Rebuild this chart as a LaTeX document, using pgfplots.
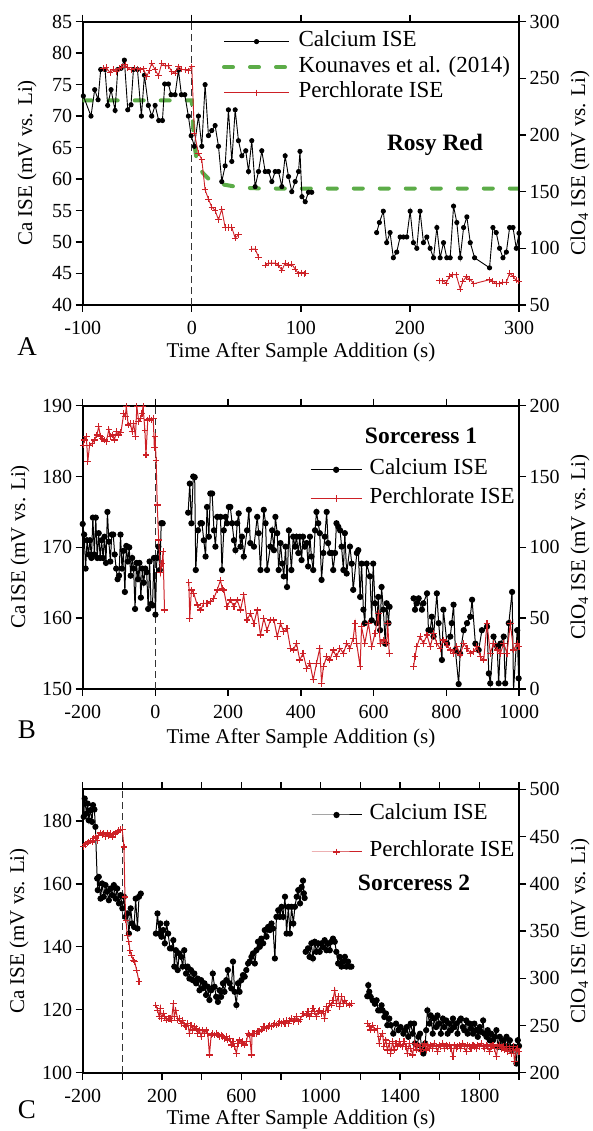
\documentclass[border=0pt]{standalone}
\usepackage{fontspec}
\setmainfont{Liberation Serif}
\usepackage{pgfplots}
\pgfplotsset{compat=1.18}
\definecolor{cared}{RGB}{205,32,38}
\definecolor{kgreen}{RGB}{92,172,72}
\pgfplotsset{
  panel/.style={scale only axis, width=436.3pt, height=283.3pt,
    tick align=outside, major tick length=7pt,
    axis line style={line width=2.2pt},
    tick style={black, line width=1.4pt},
    /pgf/number format/assume math mode=true,
    /pgf/number format/1000 sep={},
    tick label style={font=\fontsize{20}{24}\selectfont},
    xticklabel style={yshift=-6pt}},
  ca/.style={black, line width=0.9pt, mark=*, mark size=2.1pt},
  cab/.style={black, line width=1pt, mark=*, mark size=2.6pt},
  pc/.style={cared, line width=0.9pt, mark=+, mark size=3.1pt, mark options={line width=1pt}},
  pcb/.style={cared, line width=1pt, mark=+, mark size=3.3pt, mark options={line width=1.1pt}},
  kg/.style={kgreen, line width=4pt, line cap=round, dash pattern=on 9pt off 17pt},
  vline/.style={black!80, line width=1.3pt, dash pattern=on 7pt off 4pt},
  leg/.style={legend style={draw=none, fill=none, font=\fontsize{23}{27}\selectfont,
     legend cell align=left, nodes={inner sep=0.5pt, text height=16pt, text depth=6pt},
     /tikz/every odd column/.append style={column sep=7pt}}},
  limg/.style={legend image code/.code={\draw[mark repeat=2,mark phase=2] plot coordinates {(0pt,0pt) (#1,0pt) (2*#1,0pt)};}},
}
\begin{document}
\begin{tikzpicture}
\useasboundingbox (0,0) rectangle (592pt,1131pt);
%================ Panel A
\begin{axis}[panel, at={(82.7pt,826pt)}, xmin=-100, xmax=300, ymin=40, ymax=85,
  xtick={-100,0,...,300}, ytick={40,45,...,85}, xtick pos=both, xticklabel pos=lower, ytick pos=left]
\addplot[vline] coordinates {(0,40) (0,85)};
\addplot[kg] coordinates {(-100,72.5) (0,72.5) (1,69) (2,66.5) (3,64.8) (4,63.6) (6,62.3) (8,61.6) (10,61.0) (15,60.1) (20,59.7) (25,59.4) (30,59.1) (40,58.8) (50,58.6) (65,58.5) (300,58.5)};
\addplot[ca] coordinates {(-99.4,73.2) (-92.4,70.0) (-89.0,74.2) (-85.9,72.6) (-83.5,77.4) (-79.5,77.4) (-77.1,71.7) (-74.0,74.2) (-70.3,70.9) (-67.9,77.4) (-64.8,77.6) (-61.8,78.9) (-58.7,71.0) (-55.7,71.8) (-53.5,77.4) (-49.8,77.4) (-46.2,70.0) (-43.4,76.5) (-39.8,71.7) (-36.7,70.0) (-33.6,71.7) (-30.3,69.3) (-26.9,69.3) (-24.8,75.1) (-21.4,75.1) (-19.0,73.4) (-15.3,73.4) (-12.2,77.3) (-9.5,73.4) (-6.4,73.4) (-3.1,70.0) (-0.6,66.9) (2.4,65.2) (6.1,70.0) (9.2,65.2) (12.2,75.0) (15.3,66.9) (18.3,67.7) (21.4,68.5) (24.5,65.2) (27.5,59.6) (30.6,62.1) (33.6,71.0) (36.7,62.8) (39.8,71.0) (42.8,66.1) (45.9,63.7) (49.5,64.5) (52.0,61.2) (55.0,66.1) (58.1,58.8) (61.2,61.2) (64.2,64.5) (67.3,61.2) (70.3,61.2) (73.4,59.6) (76.5,61.2) (79.5,61.2) (82.6,58.8) (85.6,63.7) (88.7,60.4) (91.7,58.0) (94.8,59.6) (97.9,61.2) (99.2,64.4) (101,57.2) (104,56.4) (107,57.9) (110,57.9)};
\addplot[ca] coordinates {(169.5,51.5) (172.0,53.1) (175.6,54.9) (178.7,49.9) (181.8,51.5) (184.8,47.5) (187.9,48.4) (191.0,50.8) (194.0,50.8) (197.1,50.8) (200.2,54.9) (203.2,49.9) (206.3,49.0) (209.3,54.9) (212.4,49.9) (215.5,50.8) (218.5,49.0) (221.6,47.5) (224.7,52.3) (227.7,47.5) (230.8,49.9) (233.8,47.5) (236.9,47.5) (240.0,55.7) (243.0,53.1) (246.1,47.5) (249.2,52.3) (252.2,54.0) (255.3,49.9) (259.3,47.5) (273.0,45.9) (276.1,52.3) (279.1,51.5) (282.2,49.0) (285.3,47.5) (288.4,48.4) (291.4,52.3) (294.5,52.3) (297.5,49.0) (300.0,51.4)};
\end{axis}
\begin{axis}[panel, at={(82.7pt,826pt)}, xmin=-100, xmax=300, ymin=50, ymax=300,
  ytick={50,100,...,300}, axis y line*=right, axis x line=none, leg, limg=32.5pt,
  legend style={at={(0.312,0.978)}, anchor=north west, row sep=2.5pt}]
\addlegendimage{ca}\addlegendentry{Calcium ISE}
\addlegendimage{kg}\addlegendentry{Kounaves et al. (2014)}
\addlegendimage{pc}\addlegendentry{Perchlorate ISE}
\addplot[pc, forget plot] coordinates {(-81.0,258.9) (-78.6,259.5) (-74.9,255.1) (-71.9,258.0) (-69.4,255.9) (-66.7,258.9) (-64.2,259.8) (-61.2,261.8) (-58.7,259.5) (-55.7,257.4) (-52.9,258.9) (-49.8,258.3) (-47.4,257.4) (-44.3,258.3) (-41.3,251.5) (-39.1,256.8) (-36.7,263.3) (-33.6,257.4) (-30.6,252.4) (-27.5,263.3) (-24.5,260.9) (-21.4,260.9) (-18.3,255.9) (-15.3,254.5) (-12.2,260.3) (-9.2,258.0) (-6.1,257.4) (-3.1,256.8) (0.0,260.3) (2.4,201.6) (6.1,184.0) (9.2,178.1) (12.2,151.6) (15.3,143.4) (18.3,136.4) (21.4,133.4) (24.5,125.2) (27.5,134.6) (30.6,118.4) (33.6,118.4) (36.7,118.4) (39.8,109.0) (42.8,112.0)};
\addplot[pc, forget plot] coordinates {(55.0,99.4) (58.1,99.4) (61.2,92.3)};
\addplot[pc, forget plot] coordinates {(67.3,85.0) (70.3,87.0) (73.4,87.0) (76.5,87.0) (79.5,85.0) (82.6,80.6) (85.6,87.0) (88.7,85.0) (91.7,86.1) (94.8,81.7) (97.8,77.6) (100.5,78.5) (103,77.6) (104.5,78.0)};
\addplot[pc, forget plot] coordinates {(227.1,71.4) (230.2,71.4) (233.2,69.4) (236.3,75.3) (239.4,76.7) (242.4,76.7) (246.1,64.1) (248.5,70.9) (251.6,74.7) (254.7,72.9) (258.7,68.8) (273.0,72.3) (276.1,70.9) (279.1,68.8) (282.2,68.8) (285.3,70.0) (288.4,70.0) (291.4,78.2) (294.5,75.3) (297.5,71.7) (299.7,70.9)};
\end{axis}
%================ Panel B
\begin{axis}[panel, at={(82.7pt,442pt)}, xmin=-200, xmax=1000, ymin=150, ymax=190,
  xtick={-200,0,...,1000}, ytick={150,160,...,190}, xtick pos=both, xticklabel pos=lower, ytick pos=left]
\addplot[vline] coordinates {(0,150) (0,190)};
\addplot[cab] coordinates {(-200,173.3) (-196,171.8) (-192,167.0) (-188,171.0) (-184,169.0) (-180,171.0) (-176,168.5) (-172,174.2) (-168,169.0) (-164,174.2) (-160,168.5) (-156,172.0) (-152,168.5) (-148,171.0) (-144,168.5) (-140,171.5) (-136,167.8) (-132,175.0) (-128,170.8) (-124,168.0) (-120,171.8) (-116,171.8) (-112,169.0) (-108,167.0) (-104,165.5) (-100,166.0) (-96,171.8) (-92,167.0) (-88,169.5) (-84,163.7) (-80,170.2) (-76,168.0) (-72,170.0) (-68,166.0) (-64,168.5) (-60,167.0) (-56,161.3) (-52,167.8) (-48,165.5) (-44,167.8) (-40,162.9) (-36,167.0) (-32,165.0) (-28,167.0) (-24,166.5) (-20,161.3) (-16,168.0) (-12,162.0) (-8,161.8) (-4,168.5) (0,160.5) (4,168.5) (8,170.1) (12,166.8) (16,173.4) (20,173.4)};
\addplot[cab] coordinates {(90,174.9) (94.5,179.0) (99,173.4) (104,180.0) (108,179.9) (111,166.8) (117,172.4) (124,173.4) (128,173.4) (133,171.0) (138,168.7) (142,175.7) (147,171.5) (151,177.6) (156,177.6) (161,172.4) (165,170.1) (170,174.3) (179,174.3) (183,166.8) (188,172.4) (193,174.3) (197,173.4) (202,175.7) (206,175.7) (211,173.4) (216,171.0) (220,169.6) (225,173.4) (229,174.8) (234,170.1) (238,171.5) (243,168.7) (252,172.4) (257,175.3) (261,170.6) (271,170.1) (280,174.3) (284,172.0) (289,166.8) (298,175.3) (303,173.4) (307,166.8) (316,170.1) (321,172.4) (326,169.6) (330,174.3) (335,172.0) (339,166.8) (344,170.6) (349,167.7) (353,165.9) (358,170.1) (362,164.4) (367,172.4) (374,166.8) (379,171.5) (384,170.1) (388,171.5) (393,169.2) (397,171.5) (402,168.2) (406,171.5) (411,170.1) (416,170.6) (420,167.3) (425,171.5) (429,168.7) (434,166.8) (439,172.4) (443,175.0) (448,173.4) (452,172.0) (457,165.4) (462,169.2) (466,171.5) (471,175.0) (475,170.6) (480,169.2) (485,169.2) (489,166.8) (494,169.2) (498,173.4) (503,172.9) (508,172.4) (512,170.1) (517,166.8) (521,172.0) (526,166.3) (535,170.1) (540,167.7) (544,164.0) (554,169.2) (558,169.6) (563,163.0) (567,167.7) (572,161.2) (576,159.3) (581,167.7) (590,165.9) (595,159.7) (599,167.7) (604,162.1) (609,159.3) (613,163.0) (618,158.3) (622,164.4) (627,161.2) (632,156.4) (636,162.1) (641,159.3) (644,161.6)};
\addplot[cab] coordinates {(710,162.8) (714,161.2) (719,162.1) (724,162.8) (733,161.2) (737,162.1) (747,163.5) (751,158.3) (756,158.3) (760,160.2) (765,157.4) (774,163.5) (779,159.3) (788,154.1) (792,161.2) (802,156.4) (811,157.4) (815,159.3) (820,161.9) (825,155.5) (834,150.7) (838,155.0) (848,158.3) (857,159.3) (866,160.2) (871,162.6) (880,156.4) (889,155.5) (898,158.3) (912,158.8) (917,152.2) (921,150.8) (930,157.4) (940,156.0) (944,150.8) (949,156.4) (958,157.4) (962,150.8) (972,159.3) (981,163.7) (985,149.9) (995,158.3) (999,151.5)};
\end{axis}
\begin{axis}[panel, at={(82.7pt,442pt)}, xmin=-200, xmax=1000, ymin=0, ymax=200,
  ytick={0,50,...,200}, axis y line*=right, axis x line=none, leg, limg=25.5pt,
  legend style={at={(0.514,0.822)}, anchor=north west, row sep=5.5pt}]
\addlegendimage{cab}\addlegendentry{Calcium ISE}
\addlegendimage{pcb}\addlegendentry{Perchlorate ISE}
\addplot[pcb, forget plot] coordinates {(-199,172.2) (-195,175.8) (-190,178.1) (-186,160.5) (-181,172.2) (-174,173.4) (-168,175.8) (-161,179.3) (-156,185.2) (-151,178.1) (-147,176.9) (-140,175.8) (-135,174.6) (-128,183.3) (-124,178.1) (-119,179.3) (-113,175.8) (-107,181.6) (-101,179.3) (-95,180.9) (-87,194.6) (-83,192.2) (-80,199.5) (-75,186.4) (-69,187.5) (-64,181.6) (-60,187.5) (-55,178.1) (-51,199.5) (-46,188.7) (-41,191.1) (-37,194.6) (-34,199.3) (-29,182.8) (-26,165.2) (-21,189.9) (-17,191.1) (-12,189.9) (-6,191.1) (-3,170.6) (-1,178.1) (2,161.6) (5,129.9) (9,105.2) (14,82.1) (18,88.7) (21,96.9) (25,55.8)};
\addplot[pcb, forget plot] coordinates {(92,75.1) (94.5,49.9) (99,69.9) (105.5,67.5) (115,59.3) (124,55.8) (133,60.5) (142,60.5) (151,61.6) (160.5,64.0) (170,69.9) (179,76.9) (183.5,71.0) (188,69.9) (197,58.1) (206,62.8) (216,58.1) (225,62.8) (234,55.8) (243,66.4) (252,48.7) (261.5,53.4) (271,46.3) (280,55.8) (289,38.1) (298,49.9) (307,41.6) (316.5,48.7) (326,48.7) (335,36.9) (344,46.3) (353,40.5) (362,42.8) (371.5,28.7) (379,27.5) (388,32.2) (397,20.5) (406,25.2) (416,14.6) (425,18.1) (434,6.4) (443,18.1) (452,28.7) (457,4.0) (462,15.8) (471,22.8) (480,20.5) (489,27.5) (498,22.8) (507.5,28.7) (517,25.2) (526,32.2) (535,28.7) (544,35.8) (549,46.3) (553.5,32.2) (563,15.8) (567,44.0) (576,32.2) (586,46.3) (595,29.9) (604,39.3) (613,53.4) (618,32.2) (627,34.6) (636,32.2) (639,46.3) (643,25.2)};
\addplot[pcb, forget plot] coordinates {(710,15.8) (714,22.8) (719,29.9) (728,36.9) (737,32.2) (747,38.1) (756,29.9) (765,39.3) (774,32.2) (783,28.7) (792,34.6) (802,31.0) (811,27.5) (820,25.2) (829,29.9) (838,24.0) (848,32.2) (857,28.7) (866,25.2) (875,26.4) (884,29.9) (894,22.8) (903,20.5) (912,46.3) (921,25.2) (930,32.2) (940,27.5) (949,25.2) (958,32.2) (967,25.2) (976,46.3) (985,27.5) (995,32.2) (1000,29.9)};
\end{axis}
%================ Panel C
\begin{axis}[panel, at={(82.7pt,58.3pt)}, xmin=-200, xmax=2000, ymin=100, ymax=190,
  xtick={-200,0,...,2000}, xticklabels={-200,,200,,600,,1000,,1400,,1800,},
  ytick={100,120,...,180}, xtick pos=both, xticklabel pos=lower, ytick pos=left]
\addplot[vline] coordinates {(0,100) (0,190)};
\addplot[cab] coordinates {(-195,181.3) (-190,187.1) (-181,182.3) (-175,185.5) (-170,180.2) (-161,183.4) (-153,179.7) (-148,185.0) (-141,183.6) (-136,178.1) (-127,161.7) (-124,158.0) (-119,162.2) (-110,155.3) (-102,160.1) (-94,155.9) (-85,159.6) (-77,157.5) (-68,154.8) (-60,158.5) (-51,156.4) (-43,159.6) (-34,155.3) (-26,158.5) (-17,153.8) (-9,156.4) (0,152.2) (8,155.9) (16,149.5) (25,150.6) (33,144.2) (42,152.2) (50,147.4) (59,146.3) (67,155.3) (76,145.8) (84,155.9) (93,156.9)};
\addplot[cab] coordinates {(169,144.2) (177,150.6) (186,144.2) (191,147.4) (197,143.2) (206,145.3) (214,141.1) (223,147.4) (231,144.2) (240,139.5) (248,139.5) (257,142.1) (262,133.7) (270,138.9) (279,132.6) (287,137.9) (296,136.8) (304,133.7) (312,138.9) (321,131.5) (329,133.7) (338,129.9) (346,132.6) (355,129.4) (363,131.5) (372,128.4) (380,129.9) (389,126.2) (397,129.4) (405,126.8) (414,128.4) (422,124.7) (431,127.3) (439,123.1) (448,126.2) (456,131.5) (465,127.3) (473,124.1) (482,122.5) (490,126.2) (498,124.1) (507,128.4) (515,125.7) (524,129.4) (532,132.6) (541,128.4) (549,126.8) (558,135.3) (566,125.7) (575,121.5) (583,128.4) (591,125.7) (600,129.4) (608,131.0) (617,130.5) (625,132.6) (634,134.7) (642,135.3) (651,136.8) (659,137.9) (668,134.7) (676,138.9) (684,141.6) (693,140.0) (701,142.6) (710,141.1) (718,145.3) (727,143.2) (735,146.3) (744,145.3) (752,147.4) (760,145.8) (769,136.3) (777,149.5) (786,151.6) (794,149.5) (803,152.7) (811,149.5) (820,155.9) (828,144.2) (837,152.7) (845,144.2) (853,152.7) (862,147.4) (870,152.7) (879,155.9) (887,158.0) (896,153.8) (904,159.0) (911,161.0) (915,157.0) (919,155.5)};
\addplot[cab] coordinates {(924,138.4) (936,139.5) (944,136.8) (953,141.1) (961,136.3) (970,141.6) (978,138.4) (987,141.1) (995,138.4) (1003,141.1) (1012,139.9) (1020,142.1) (1029,138.9) (1037,141.1) (1046,138.9) (1054,141.6) (1062,142.6) (1071,141.6) (1079,138.4) (1088,134.7) (1096,136.8) (1105,133.7) (1113,135.3) (1122,136.8) (1130,133.7) (1138,135.3) (1147,133.7) (1155,133.7)};
\addplot[cab] coordinates {(1235,124.3) (1240,127.8) (1245,125.7) (1252,124.1) (1262,123.0) (1273,121.9) (1282,123.0) (1290,119.8) (1299,119.8) (1307,121.4) (1312,119.8) (1321,117.7) (1329,118.8) (1336,115.1) (1346,117.2) (1354,115.1) (1366,112.4) (1380,115.6) (1392,113.5) (1403,114.5) (1417,112.4) (1425,113.5) (1434,114.5) (1442,111.4) (1454,115.6) (1464,112.4) (1471,115.6) (1476,109.3) (1488,108.7) (1493,111.4) (1501,112.4) (1510,107.2) (1518,106.1) (1527,109.3) (1532,113.5) (1538,119.8) (1549,115.6) (1555,118.2) (1565,112.4) (1572,117.2) (1582,114.5) (1589,118.2) (1599,115.6) (1606,112.4) (1616,117.2) (1623,114.5) (1633,116.6) (1640,112.4) (1650,115.6) (1657,113.5) (1667,117.2) (1674,114.5) (1684,115.6) (1690,112.4) (1701,116.6) (1707,117.2) (1717,114.5) (1724,113.5) (1734,116.6) (1741,112.4) (1751,115.6) (1758,114.0) (1768,112.4) (1775,115.6) (1785,113.5) (1792,111.4) (1802,114.5) (1809,113.0) (1819,116.6) (1825,112.4) (1836,111.4) (1842,113.5) (1852,110.3) (1859,112.4) (1869,110.3) (1876,111.4) (1886,113.5) (1893,108.2) (1903,111.4) (1910,108.2) (1920,110.3) (1927,108.2) (1937,111.4) (1944,108.2) (1954,110.3) (1961,107.2) (1971,108.2) (1977,108.2) (1987,102.9) (1994,110.3) (2000,108.5)};
\end{axis}
\begin{axis}[panel, at={(82.7pt,58.3pt)}, xmin=-200, xmax=2000, ymin=200, ymax=500,
  ytick={200,250,...,500}, axis y line*=right, axis x line=none, leg, limg=25pt,
  legend style={at={(0.516,0.958)}, anchor=north west, row sep=14pt}]
\addlegendimage{cab}\addlegendentry{Calcium ISE}
\addlegendimage{pcb}\addlegendentry{Perchlorate ISE}
\addplot[pcb, forget plot] coordinates {(-195,439.7) (-186.5,441.8) (-178,443.2) (-169.6,444.3) (-161,445.4) (-152.7,444.3) (-144,447.8) (-135.7,449.6) (-127.3,446.1) (-118.8,451.4) (-110.4,453.8) (-102,452.4) (-93.5,453.1) (-85,450.3) (-76.6,453.8) (-68,451.4) (-59.6,453.1) (-51.2,449.6) (-42.7,452.4) (-34.3,453.8) (-25.8,454.9) (-17.4,456.6) (-8.9,457.3) (-0.5,457.3) (8,439) (13,386.1) (18,361.5) (25,345.6) (33,338.6) (38,329.7) (45,324.5) (55,319.2) (62,317.4) (72,308.6) (84,296.3)};
\addplot[pcb, forget plot] coordinates {(169,271.6) (177,266.3) (186,259.3) (191,268.1) (197,257.5) (206,262.8) (214,259.3) (223,255.7) (231,257.5) (240,257.5) (248,255.7) (257,273.3) (262,259.3) (270,266.3) (279,255.7) (287,257.5) (296,252.2) (304,255.7) (312,250.4) (321,248.7) (329,252.2) (338,241.6) (346,250.4) (355,245.2) (363,248.7) (372,246.9) (380,241.6) (389,245.2) (397,238.1) (405,245.2) (414,241.6) (422,245.2) (431,241.6) (439,218.7) (448,239.9) (456,241.6) (465,239.9) (473,241.6) (482,239.9) (490,238.1) (498,239.9) (507,238.1) (515,236.3) (524,238.1) (532,234.6) (541,236.3) (549,229.3) (558,232.8) (566,227.5) (575,220.5) (583,231.1) (591,234.6) (600,231.1) (608,232.8) (617,229.3) (625,232.8) (634,241.6) (642,239.9) (651,218.7) (654,241.6) (659,241.6) (668,241.6) (676,241.6) (684,243.4) (693,243.4) (701,245.2) (710,248.7) (718,248.7) (727,246.9) (735,248.7) (744,250.4) (752,248.7) (760,250.4) (769,252.2) (777,250.4) (786,252.2) (794,254.0) (803,252.2) (811,254.0) (820,252.2) (828,255.7) (837,252.2) (845,255.7) (853,257.5) (862,254.0) (870,255.7) (879,259.3) (887,254.0) (896,256.2) (911,262.3) (927,261.0) (936,264.5) (944,259.3) (953,262.8) (961,268.1) (970,264.5) (978,259.3) (987,264.5) (995,266.3) (1003,262.8) (1012,264.5) (1020,257.5) (1029,269.8) (1037,266.3) (1046,273.3) (1054,271.6) (1062,276.9) (1071,287.5) (1079,273.3) (1088,280.4) (1096,269.8) (1105,280.4) (1113,273.3) (1122,276.9) (1130,273.3) (1147,271.6) (1155,273.3)};
\addplot[pcb, forget plot] coordinates {(1235,252.2) (1245,248.7) (1252,245.2) (1262,250.4) (1273,245.2) (1285,246.9) (1295,231.1) (1302,238.1) (1312,241.6) (1319,227.5) (1329,234.6) (1336,224.0) (1346,231.1) (1353,220.5) (1363,232.8) (1370,224.0) (1380,231.1) (1387,227.5) (1397,232.8) (1403,229.3) (1414,227.5) (1420,232.8) (1430,227.5) (1437,220.5) (1447,231.1) (1454,225.8) (1464,218.7) (1471,231.1) (1481,224.0) (1488,229.3) (1498,227.5) (1505,222.2) (1515,227.5) (1522,231.1) (1532,224.0) (1538,229.3) (1549,225.8) (1555,229.3) (1565,225.8) (1572,231.1) (1582,227.5) (1589,222.2) (1599,229.3) (1606,227.5) (1616,231.1) (1623,225.8) (1633,229.3) (1640,227.5) (1650,229.3) (1657,225.8) (1667,216.9) (1674,229.3) (1684,225.8) (1690,227.5) (1701,229.3) (1707,225.8) (1717,231.1) (1724,227.5) (1734,222.2) (1741,229.3) (1751,227.5) (1758,225.8) (1768,229.3) (1775,227.5) (1785,225.8) (1792,229.3) (1802,227.5) (1809,231.1) (1819,227.5) (1825,225.8) (1836,229.3) (1842,227.5) (1852,222.2) (1859,227.5) (1869,229.3) (1876,225.8) (1886,216.9) (1893,227.5) (1903,229.3) (1910,225.8) (1920,227.5) (1927,224.0) (1937,227.5) (1944,222.2) (1954,225.8) (1961,220.5) (1971,227.5) (1977,211.7) (1987,224.0) (1994,225.8) (2000,222.2)};
\end{axis}
%================ Text
\begin{scope}[every node/.style={font=\fontsize{21}{25}\selectfont}]
\node[rotate=90] at (27pt,968pt) {Ca ISE (mV vs. Li)};
\node[rotate=90] at (580pt,968pt) {ClO\textsubscript{4} ISE (mV vs. Li)};
\node at (301pt,779pt) {Time After Sample Addition (s)};
\node[rotate=90] at (20pt,584pt) {Ca\,ISE (mV vs. Li)};
\node[rotate=90] at (580pt,584pt) {ClO\textsubscript{4} ISE (mV vs. Li)};
\node at (301pt,393pt) {Time After Sample Addition (s)};
\node[rotate=90] at (19pt,200pt) {Ca ISE (mV vs. Li)};
\node[rotate=90] at (580pt,200pt) {ClO\textsubscript{4} ISE (mV vs. Li)};
\node at (301pt,12pt) {Time After Sample Addition (s)};
\end{scope}
\begin{scope}[every node/.style={font=\fontsize{27}{30}\selectfont}]
\node at (27pt,784pt) {A};
\node at (27pt,401pt) {B};
\node at (27pt,21pt) {C};
\end{scope}
\begin{scope}[every node/.style={font=\fontsize{23.5}{27}\selectfont\bfseries}]
\node at (435pt,986pt) {Rosy Red};
\node at (421pt,695pt) {Sorceress 1};
\node at (414pt,248pt) {Sorceress 2};
\end{scope}
\end{tikzpicture}
\end{document}
